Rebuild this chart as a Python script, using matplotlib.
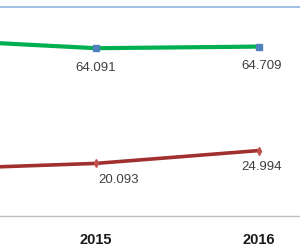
import matplotlib.pyplot as plt

years = [2014, 2015, 2016]
green_vals = [67.3, 64.091, 64.709]
red_vals = [17.9, 20.093, 24.994]
green_labels = ['', '64.091', '64.709']
red_labels = ['', '20.093', '24.994']
# label offsets in points (dx, dy)
green_offs = [(0, 0), (0, -14), (2, -14)]
red_offs = [(0, 0), (16, -12), (2, -12)]
top_line = 80

fig = plt.figure(figsize=(3, 2.5), dpi=100)
ax = fig.add_axes([0, 0.136, 1, 0.864])

ax.axhline(top_line, color='#8DB4E2', lw=1.2)

ax.plot(years, green_vals, color='#00B050', lw=3.0, marker='s', ms=5,
        markerfacecolor='#4F81BD', markeredgecolor='#4F81BD', solid_capstyle='round')
ax.plot(years, red_vals, color='#A0302F', lw=2.6, marker='d', ms=4,
        markerfacecolor='#C0504D', markeredgecolor='#C0504D')

for x, v, s, o in zip(years, green_vals, green_labels, green_offs):
    if s:
        ax.annotate(s, (x, v), xytext=o, textcoords='offset points',
                    ha='center', va='center', fontsize=9.5, color='#404040',
                    family='Liberation Sans')
for x, v, s, o in zip(years, red_vals, red_labels, red_offs):
    if s:
        ax.annotate(s, (x, v), xytext=o, textcoords='offset points',
                    ha='center', va='center', fontsize=9.5, color='#404040',
                    family='Liberation Sans')

ax.set_xlim(2014.411, 2016.2515)
ax.set_ylim(0, 82.5)
ax.set_xticks([2015, 2016])
ax.set_xticklabels(['2015', '2016'], fontsize=10.5, fontweight='bold',
                   family='Liberation Sans', color='#1a1a1a')
ax.tick_params(axis='x', length=0, pad=12)
ax.set_yticks([])
for side in ['top', 'left', 'right']:
    ax.spines[side].set_visible(False)
ax.spines['bottom'].set_color('#BFBFBF')
ax.spines['bottom'].set_linewidth(1)

fig.savefig('out.png', dpi=100)
